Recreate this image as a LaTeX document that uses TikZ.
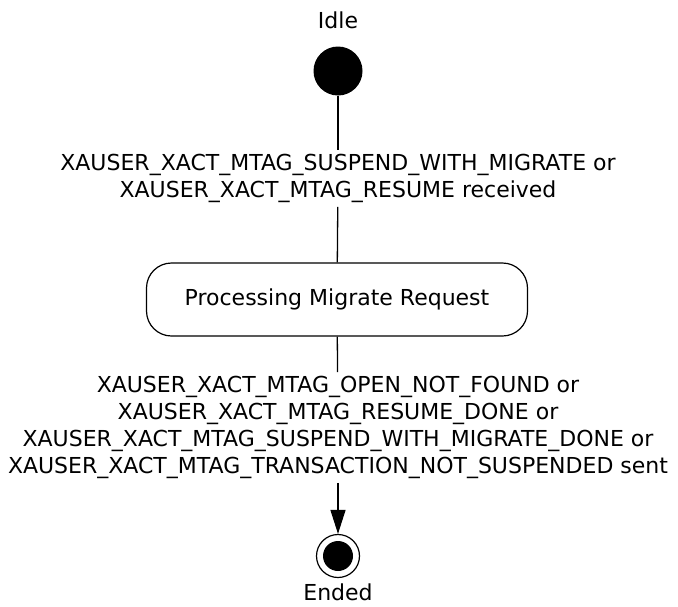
\documentclass[tikz,border=0pt]{standalone}
\usepackage{fontspec}
\setmainfont{DejaVu Sans}
\usetikzlibrary{arrows.meta}
\tikzset{every node/.style={font=\fontsize{22}{27}\selectfont},
 startdot/.style={circle,fill=black,minimum size=49pt,inner sep=0pt},
 enddot/.style={circle,draw=black,line width=1.2pt,minimum size=43pt,inner sep=0pt,
  path picture={\fill[black] (path picture bounding box.center) circle (15pt);}},
 procbox/.style={draw,line width=1.2pt,rounded corners=25pt,minimum width=381pt,minimum height=73pt},
 translabel/.style={align=center,inner sep=4pt},
 link/.style={draw,line width=1.3pt},
 }

\begin{document}
\begin{tikzpicture}[x=1pt,y=-1pt]
        \useasboundingbox (0,0) rectangle (678,606);
        \node (idle) at (338,20) {Idle};
        \node[startdot] (start) at (338,71) {};
        \node[translabel] (lbltop) at (338,178.5) {XAUSER\_XACT\_MTAG\_SUSPEND\_WITH\_MIGRATE or\\XAUSER\_XACT\_MTAG\_RESUME received};
        \node[procbox] (proc) at (337,299.5) {Processing Migrate Request};
        \node[translabel] (lblbot) at (338,427.5) {XAUSER\_XACT\_MTAG\_OPEN\_NOT\_FOUND or\\XAUSER\_XACT\_MTAG\_RESUME\_DONE or\\XAUSER\_XACT\_MTAG\_SUSPEND\_WITH\_MIGRATE\_DONE or\\XAUSER\_XACT\_MTAG\_TRANSACTION\_NOT\_SUSPENDED sent};
        \node[enddot] (finish) at (338,556) {};
        \node (ended) at (338,592) {Ended};
        \draw[link] (start) -- (lbltop);
        \draw[link] (lbltop) -- (proc);
        \draw[link] (proc) -- (lblbot);
        \draw[link,-{Triangle[length=24pt,width=15pt]}] (lblbot) -- (finish);
    \end{tikzpicture}
\end{document}
